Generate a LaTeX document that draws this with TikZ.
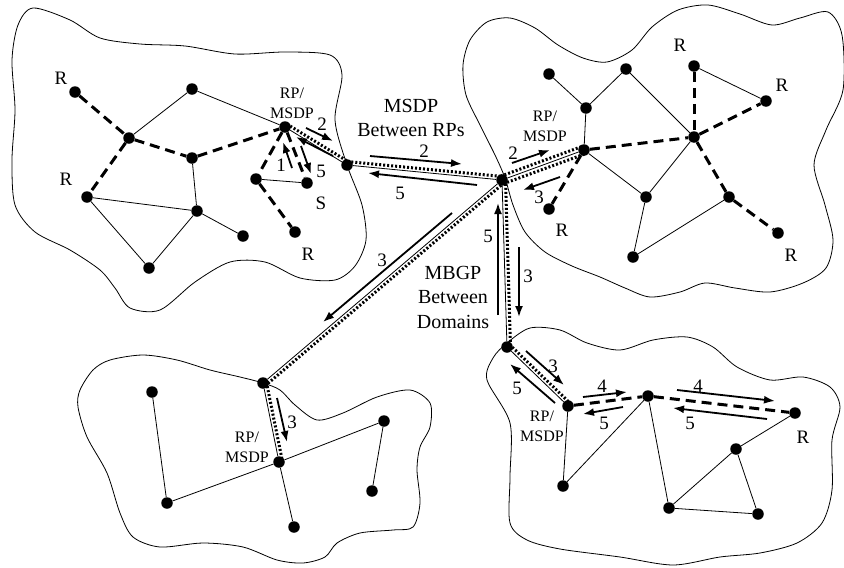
\documentclass[tikz,border=0pt]{standalone}
\usepackage{fontspec}
\setmainfont{Liberation Serif}
\usetikzlibrary{arrows.meta,calc}

\tikzset{
  router/.style={circle, fill=black, inner sep=0pt, minimum size=11.5pt},
  wire/.style={line width=0.8pt},
  treeline/.style={line width=3pt, dash pattern=on 10pt off 6pt},
  dotpath/.style={line width=3pt, dash pattern=on 2pt off 2pt},
  flow/.style={-{Latex[length=11pt,width=8pt]}, line width=1.8pt},
  blob/.style={line width=0.8pt},
  lbl/.style={font=\fontsize{19}{23}\selectfont, inner sep=0pt},
  biglbl/.style={font=\fontsize{20}{24.5}\selectfont, inner sep=0pt, align=center},
  rplbl/.style={font=\fontsize{16}{20}\selectfont, inner sep=0pt, align=center},
}

\begin{document}
\begin{tikzpicture}[x=1pt, y=-1pt]
  \useasboundingbox (0,0) rectangle (844,568);

  % domain outlines
  \draw[blob] plot[smooth cycle] coordinates {(33,8) (70,20) (100,38) (140,44) (185,46)
    (235,54) (285,52) (330,55) (342,75) (335,120) (347,165) (362,205) (366,240) (355,266)
    (335,280) (300,278) (265,262) (230,262) (195,282) (160,310) (130,308) (115,288)
    (100,270) (70,250) (35,232) (15,205) (12,160) (15,110) (12,60) (18,25)};
  \draw[blob] plot[smooth cycle] coordinates {(470,40) (487,22) (510,18) (535,28) (558,45)
    (583,58) (607,62) (632,50) (652,27) (678,10) (708,5) (740,14) (772,25) (800,18)
    (828,12) (842,35) (843,90) (826,130) (814,165) (825,205) (833,240) (826,268) (803,283)
    (770,292) (735,288) (705,283) (680,292) (650,297) (625,288) (600,277) (572,266)
    (545,252) (525,232) (513,205) (505,178) (495,155) (480,125) (466,95) (463,65)};
  \draw[blob] plot[smooth cycle] coordinates {(80,390) (93,370) (110,360) (143,355)
    (177,360) (210,370) (240,377) (263,383) (280,390) (295,405) (317,420) (343,413)
    (377,397) (410,390) (430,403) (430,427) (420,447) (417,470) (420,503) (413,527)
    (393,530) (360,533) (337,543) (325,557) (303,563) (277,560) (243,547) (203,543)
    (160,547) (133,537) (120,513) (107,473) (87,437) (78,407)};
  \draw[blob] plot[smooth cycle] coordinates {(507,343) (530,328) (560,330) (587,343)
    (620,350) (653,340) (687,337) (713,347) (737,367) (770,380) (803,377) (830,387)
    (840,407) (832,440) (832,490) (822,523) (797,543) (760,553) (720,557) (673,565)
    (620,557) (560,549) (527,540) (510,523) (510,477) (510,423) (487,380) (493,358)};

  % routers, top left
  \node[router] (aR1) at (75,92) {};
  \node[router] (aT) at (192,89) {};
  \node[router] (aB) at (129,138) {};
  \node[router] (aC) at (192,158) {};
  \node[router] (aRP) at (285,127) {};
  \node[router] (aR2) at (87,197) {};
  \node[router] (aE) at (197,211) {};
  \node[router] (aF) at (243,236) {};
  \node[router] (aG) at (149,268) {};
  \node[router] (aH) at (256,179) {};
  \node[router] (aS) at (307,183) {};
  \node[router] (aR3) at (295,232) {};
  \node[router] (aX) at (347,165) {};

  % routers, top right
  \node[router] (bH) at (502,180) {};
  \node[router] (bRP) at (584,150) {};
  \node[router] (bP) at (549,74) {};
  \node[router] (bQ) at (586,108) {};
  \node[router] (bR) at (626,69) {};
  \node[router] (bS) at (694,137) {};
  \node[router] (bT) at (694,66) {};
  \node[router] (bU) at (766,101) {};
  \node[router] (bV) at (646,197) {};
  \node[router] (bW) at (729,197) {};
  \node[router] (bR4) at (778,233) {};
  \node[router] (bY) at (633,257) {};
  \node[router] (bR1) at (549,209) {};

  % routers, bottom left
  \node[router] (cG) at (263,383) {};
  \node[router] (cRP) at (279,462) {};
  \node[router] (cA) at (152,392) {};
  \node[router] (cB) at (167,503) {};
  \node[router] (cC) at (294,527) {};
  \node[router] (cD) at (384,421) {};
  \node[router] (cE) at (372,491) {};

  % routers, bottom right
  \node[router] (dB) at (507,347) {};
  \node[router] (dRP) at (568,406) {};
  \node[router] (dM) at (648,396) {};
  \node[router] (dR) at (795,413) {};
  \node[router] (dN) at (563,486) {};
  \node[router] (dO) at (736,449) {};
  \node[router] (dP) at (669,508) {};
  \node[router] (dQ) at (758,514) {};

  % plain links
  \foreach \a/\b in {aT/aB, aT/aRP, aC/aE, aR2/aE, aR2/aG, aG/aE, aE/aF, aH/aS,
      bP/bQ, bQ/bR, bQ/bRP, bR/bS, bRP/bV, bV/bS, bT/bU, bW/bY, bV/bY,
      cA/cB, cB/cRP, cRP/cD, cD/cE, cRP/cC,
      dN/dRP, dN/dM, dM/dP, dP/dO, dO/dR, dO/dQ, dP/dQ}
    \draw[wire] (\a) -- (\b);

  % shared trees
  \foreach \a/\b in {aR1/aB, aB/aC, aC/aRP, aB/aR2, aRP/aH, aH/aR3, aRP/aS,
      bRP/bS, bT/bS, bS/bU, bS/bW, bW/bR4, bRP/bR1,
      dRP/dM, dM/dR}
    \draw[treeline] (\a) -- (\b);

  % links with source path beside them
  \foreach \a/\b in {aRP/aX, aX/bH, bH/cG, bH/dB, cG/cRP, dB/dRP} {
    \draw[wire] (\a) -- (\b);
    \draw[dotpath] ($(\a.center)!3.5pt!90:(\b.center)$) -- ($(\b.center)!3.5pt!-90:(\a.center)$);
  }
  \draw[wire] (bH) -- (bRP);
  \draw[dotpath] ($(bH.center)!4pt!90:(bRP.center)$) -- ($(bRP.center)!4pt!-90:(bH.center)$);
  \draw[dotpath] ($(bH.center)!4pt!-90:(bRP.center)$) -- ($(bRP.center)!4pt!90:(bH.center)$);

  % message flows
  \foreach \n/\tx/\ty/\hx/\hy in {1/306/128/333/141, 2/333/156/296/137, 3/292/168/283/142,
      4/301/146/311/174, 5/370/156/462/164, 6/477/185/368/173, 7/512/163/550/150,
      8/560/177/523/190, 9/452/213/323/322, 10/498/315/498/203, 11/519/247/519/317,
      12/277/398/287/442, 13/526/351/564/385, 14/555/403/510/364, 15/583/397/627/392,
      16/623/407/583/414, 17/677/390/775/401, 18/767/419/673/408} {
    \coordinate (f\n t) at (\tx,\ty);
    \coordinate (f\n h) at (\hx,\hy);
    \draw[flow] (f\n t) -- (f\n h);
  }

  % step numbers
  \foreach \n/\x/\y/\s in {1/322/124/2, 2/281/165/1, 3/321/171/5, 4/424/151/2,
      5/400/193/5, 6/513/153/2, 7/539/197/3, 8/382/260/3, 9/488/236/5, 10/528/276/3,
      11/292/422/3, 12/553/366/3, 13/517/388/5, 14/602/386/4, 15/604/423/5,
      16/698/386/4, 17/690/423/5}
    \node[lbl] (n\n) at (\x,\y) {\s};

  % receivers and source
  \node[lbl] (aR1l) at (61,78) {R};
  \node[lbl] (aR2l) at (66,179) {R};
  \node[lbl] (aR3l) at (308,254) {R};
  \node[lbl] (aSl) at (321,203) {S};
  \node[lbl] (bTl) at (680,45) {R};
  \node[lbl] (bUl) at (782,85) {R};
  \node[lbl] (bR4l) at (791,255) {R};
  \node[lbl] (bR1l) at (562,230) {R};
  \node[lbl] (dRl) at (803,437) {R};

  % rendezvous points
  \node[rplbl] (aRPl) at (292,103) {RP/\\MSDP};
  \node[rplbl] (bRPl) at (545,126) {RP/\\MSDP};
  \node[rplbl] (cRPl) at (247,447) {RP/\\MSDP};
  \node[rplbl] (dRPl) at (542,426) {RP/\\MSDP};

  \node[biglbl] (msdp) at (411,118) {MSDP\\Between RPs};
  \node[biglbl] (mbgp) at (453,297) {MBGP\\Between\\Domains};
\end{tikzpicture}
\end{document}
